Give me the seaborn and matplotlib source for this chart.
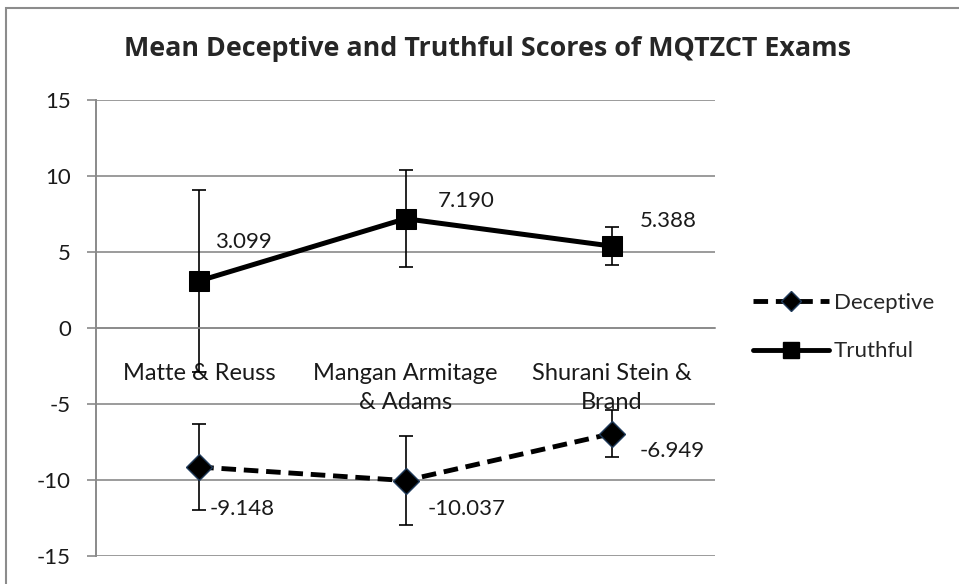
import matplotlib
matplotlib.use("Agg")
import matplotlib.pyplot as plt
import seaborn as sns
import pandas as pd
from matplotlib.lines import Line2D
from matplotlib.patches import Rectangle

categories = ["Matte & Reuss", "Mangan Armitage\n& Adams", "Shurani Stein &\nBrand"]
deceptive = [-9.148, -10.037, -6.949]
truthful = [3.099, 7.190, 5.388]
deceptive_err = [2.85, 2.95, 1.55]
truthful_err = [6.0, 3.2, 1.25]
yticks = [-15, -10, -5, 0, 5, 10, 15]

sns.set_style("white")
plt.rcParams['font.family'] = ['Lato', 'DejaVu Sans']

FS = 16
GRID = "#8a8a8a"
DASH = (0, (3.0, 1.6))

fig = plt.figure(figsize=(9.59, 5.84), dpi=100)
ax = fig.add_axes([96/959, 1-556/584, (715-96)/959, (556-100)/584])

fig.patches.append(Rectangle((6/959, -0.1), 1.2, 1 - 8/584 + 0.1, transform=fig.transFigure,
                             fill=False, edgecolor="#8c8c8c", linewidth=1.5, zorder=-5))

for s in ["top", "right"]:
    ax.spines[s].set_visible(False)
ax.spines["bottom"].set_position(("data", 0))
ax.spines["bottom"].set_color(GRID)
ax.spines["bottom"].set_linewidth(1.2)
ax.spines["left"].set_color(GRID)
ax.spines["left"].set_linewidth(1.4)

pos = list(range(len(categories)))
df = pd.DataFrame({"x": pos * 2,
                   "y": deceptive + truthful,
                   "series": ["Deceptive"] * 3 + ["Truthful"] * 3})

for v in yticks:
    ax.axhline(v, color=GRID, linewidth=1.2, zorder=0)

sns.lineplot(data=df[df.series == "Deceptive"], x="x", y="y", ax=ax, color="black",
             linewidth=3.5, linestyle=DASH, marker="D", markersize=13.5,
             markeredgecolor="#1f3a5a", markeredgewidth=1, zorder=3, legend=False)
sns.lineplot(data=df[df.series == "Truthful"], x="x", y="y", ax=ax, color="black",
             linewidth=3.6, marker="s", markersize=14.5, markeredgecolor="black",
             zorder=3, legend=False)

ax.errorbar(pos, deceptive, yerr=deceptive_err, fmt="none", ecolor="black",
            elinewidth=1.2, capsize=5, capthick=1.2, zorder=2)
ax.errorbar(pos, truthful, yerr=truthful_err, fmt="none", ecolor="black",
            elinewidth=1.2, capsize=5, capthick=1.2, zorder=2)

t_off = [(16, 39), (32, 18), (28, 25)]
d_off = [(10, -42), (22, -28), (28, -17)]
for x, v, o in zip(pos, truthful, t_off):
    ax.annotate(f"{v:.3f}", (x, v), xytext=o, textcoords="offset pixels",
                fontsize=FS, color="#1a1a1a", va="center", ha="left")
for x, v, o in zip(pos, deceptive, d_off):
    ax.annotate(f"{v:.3f}", (x, v), xytext=o, textcoords="offset pixels",
                fontsize=FS, color="#1a1a1a", va="center", ha="left")

ax.set_xlim(-0.5, 2.5)
ax.set_ylim(-15, 15)
ax.set_yticks(yticks)
ax.set_yticklabels([str(v) for v in yticks])
ax.set_xticks(pos)
ax.set_xticklabels(categories, linespacing=1.5)
ax.set_xticks([0.5, 1.5], minor=True)
ax.tick_params(axis="x", which="major", length=0, pad=25, labelsize=17, labelcolor="#1a1a1a")
ax.tick_params(axis="x", which="minor", length=5, width=1.2, color=GRID, direction="out")
ax.tick_params(axis="y", length=6.5, width=1.2, color=GRID, direction="out", left=True,
               pad=11.5, labelsize=FS, labelcolor="#1a1a1a")
ax.set_xlabel("")
ax.set_ylabel("")

fig.text(487/959, 1-49/584, "Mean Deceptive and Truthful Scores of MQTZCT Exams",
         ha="center", va="center", fontsize=19.4, fontweight="bold",
         family=["Open Sans", "DejaVu Sans"])

handles = [Line2D([], [], color="black", linewidth=3.5, linestyle=DASH, marker="D",
                  markersize=10, markeredgecolor="#1f3a5a"),
           Line2D([], [], color="black", linewidth=3.5, marker="s", markersize=12)]
fig.legend(handles, ["Deceptive", "Truthful"], loc="center left",
           bbox_to_anchor=(753/959, 1-327/584), frameon=False, fontsize=FS,
           handlelength=3.4, handletextpad=0.25, labelspacing=1.3,
           borderpad=0, borderaxespad=0)

fig.savefig("out.png", dpi=100)
